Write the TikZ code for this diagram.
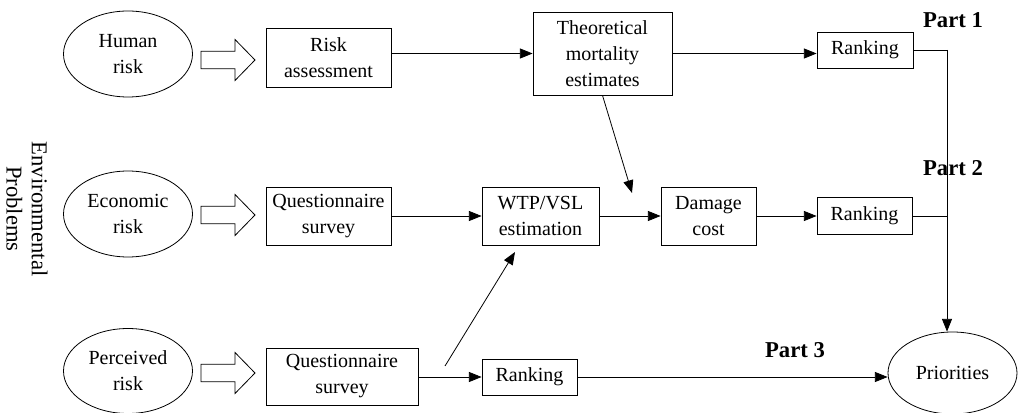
\documentclass[tikz,border=0pt]{standalone}
\usepackage{fontspec}
\setmainfont{Liberation Serif}
\usetikzlibrary{arrows.meta,calc,shapes.geometric}
\tikzset{
  sz/.style 2 args={minimum width=#1*0.75pt, minimum height=#2*0.75pt},
  ell/.style={draw, ellipse, inner sep=0pt, align=center},
  bx/.style={draw, rectangle, inner sep=0pt, align=center},
  lbl/.style={font=\fontsize{17}{20}\selectfont\bfseries, inner sep=0pt},
  arr/.style={-{Triangle[length=9.5pt,width=7.5pt]}},
  hollow/.style={draw, line width=0.6pt, fill=white}
}
\begin{document}
\begin{tikzpicture}[x=0.75pt,y=-0.75pt, line width=0.6pt, font=\fontsize{15}{19.5}\selectfont]
\useasboundingbox (0,0) rectangle (1018,413);
% ellipses
\node[ell, sz={129}{86}] (human) at (128,54) {Human\\risk};
\node[ell, sz={129}{86}] (econ) at (128,214) {Economic\\risk};
\node[ell, sz={129}{85}] (perc) at (128,371) {Perceived\\risk};
\node[ell, sz={129}{82}] (prio) at (952.5,373) {Priorities};
% boxes
\node[bx, sz={125}{59}] (ra) at (328.5,57.5) {Risk\\assessment};
\node[bx, sz={125}{58}] (q1) at (328.5,216) {Questionnaire\\survey};
\node[bx, sz={152}{57}] (q2) at (342,376.5) {Questionnaire\\survey};
\node[bx, sz={139}{83}] (theo) at (602.5,53.5) {Theoretical\\mortality\\estimates};
\node[bx, sz={117}{58}] (wtp) at (540.5,216) {WTP/VSL\\estimation};
\node[bx, sz={95}{58}] (dmg) at (708.5,216) {Damage\\cost};
\node[bx, sz={96}{36}] (rk1) at (865,50) {Ranking};
\node[bx, sz={95}{37}] (rk2) at (864.5,216) {Ranking};
\node[bx, sz={95}{36}] (rk3) at (529.5,377) {Ranking};
% labels
\node[lbl] (p1) at (953,20) {Part 1};
\node[lbl] (p2) at (953,168) {Part 2};
\node[lbl] (p3) at (795,350) {Part 3};
\node[rotate=-90, align=center, inner sep=0pt, font=\fontsize{17}{19}\selectfont] (env) at (27,209) {Environmental\\Problems};
% hollow arrows
\foreach \yy in {60,215,373}{
  \draw[hollow] (201,\yy-8.7) -- (235,\yy-8.7) -- (235,\yy-20.5) -- (255,\yy)
     -- (235,\yy+20.5) -- (235,\yy+8.7) -- (201,\yy+8.7) -- cycle;
}
% coordinates
\coordinate (vx) at (947,0);
\coordinate (tip1) at (632,193);
\coordinate (st2) at (445,366);
\coordinate (tip2) at (515,252);
% connectors
\draw[arr] (ra.east |- theo.west) -- (theo.west);
\draw[arr] (theo.east) -- (theo.east -| rk1.west);
\draw (rk1.east) -- (rk1.east -| vx);
\draw[arr] (rk1.east -| vx) -- (vx |- prio.north);
\draw (rk2.east) -- (rk2.east -| vx);
\draw[arr] (theo.south) -- (tip1);
\draw[arr] (q1.east) -- (wtp.west);
\draw[arr] (wtp.east) -- (dmg.west);
\draw[arr] (dmg.east) -- (rk2.west);
\draw[arr] (st2) -- (tip2);
\draw[arr] (q2.east |- rk3.west) -- (rk3.west);
\draw[arr] (rk3.east) -- (rk3.east -| prio.west);
\end{tikzpicture}
\end{document}
